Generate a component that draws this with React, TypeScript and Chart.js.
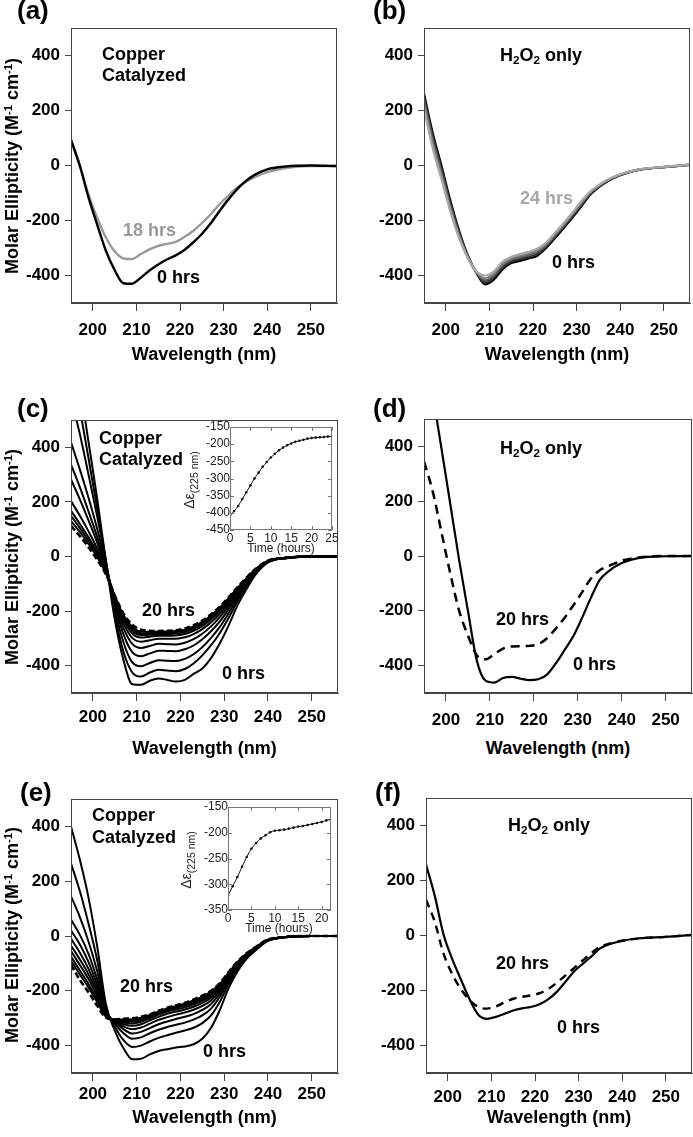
import React, { useEffect, useRef } from "react";
import { Chart, registerables } from "chart.js";
Chart.register(...registerables);

const FONT = "'Liberation Sans', Arial, Helvetica, sans-serif";

// ---------- shared axes ----------
const WAVELENGTHS = [195, 197, 199, 201, 203, 205, 207, 209, 211, 213, 215, 217, 219, 221, 223, 225, 227, 229, 231, 233, 235, 237, 240, 244, 250, 256];
const WL_TICKS = [200, 210, 220, 230, 240, 250];
const ME_TICKS = [-400, -200, 0, 200, 400];

// ---------- panel (a) ----------
const A_0H = [93, 0, -115, -215, -310, -380, -428, -430, -408, -382, -360, -342, -327, -307, -280, -249, -211, -167, -125, -88, -58, -35, -14, -4, 0, -2];
const A_18H = [93, 2, -105, -190, -262, -312, -338, -340, -322, -305, -292, -285, -278, -260, -238, -210, -178, -142, -110, -82, -60, -43, -24, -10, -2, -2];

// ---------- panel (b) ----------
const B_0H = [262, 118, 0, -125, -235, -325, -390, -432, -415, -378, -355, -347, -338, -328, -300, -265, -228, -190, -150, -108, -80, -58, -35, -17, -6, 2];
const B_6H = [250, 105, -12, -135, -242, -328, -389, -425, -408, -370, -349, -340, -332, -321, -295, -260, -223, -185, -145, -105, -78, -57, -34, -16, -6, 2];
const B_12H = [238, 92, -24, -145, -248, -330, -388, -418, -400, -363, -343, -334, -326, -315, -290, -255, -219, -181, -141, -102, -76, -55, -34, -16, -6, 2];
const B_18H = [222, 78, -37, -155, -255, -333, -387, -410, -393, -357, -337, -328, -320, -308, -285, -250, -214, -176, -136, -99, -74, -54, -33, -15, -5, 3];
const B_24H = [205, 62, -50, -165, -262, -335, -385, -400, -385, -350, -332, -322, -314, -302, -280, -245, -210, -172, -132, -96, -72, -52, -32, -15, -5, 3];

// ---------- panel (c) ----------
const C_0H = [820, 630, 420, 210, -20, -230, -380, -468, -470, -455, -447, -452, -458, -452, -430, -410, -372, -318, -253, -180, -122, -70, -22, -6, 0, 0];
const C_2H = [700, 540, 360, 175, -20, -210, -350, -425, -440, -425, -415, -418, -420, -412, -392, -362, -325, -280, -225, -165, -112, -65, -21, -6, 0, 0];
const C_4H = [580, 450, 300, 145, -20, -190, -315, -388, -402, -390, -380, -382, -383, -375, -358, -332, -298, -258, -208, -155, -105, -62, -20, -6, 0, 0];
const C_6H = [418, 320, 215, 100, -30, -175, -285, -350, -365, -355, -345, -346, -347, -340, -326, -303, -274, -238, -193, -145, -99, -59, -19, -6, 0, 0];
const C_8H = [337, 255, 165, 70, -40, -165, -262, -320, -335, -328, -320, -321, -322, -316, -303, -283, -256, -222, -182, -137, -94, -56, -18, -5, 0, 0];
const C_10H = [282, 210, 132, 50, -45, -155, -245, -298, -312, -307, -301, -301, -301, -296, -284, -266, -241, -210, -172, -130, -90, -54, -17, -5, 0, 0];
const C_12H = [203, 150, 92, 28, -50, -150, -232, -282, -297, -294, -290, -290, -289, -284, -272, -255, -231, -201, -165, -125, -87, -52, -17, -5, 0, 0];
const C_14H = [167, 120, 70, 15, -55, -148, -225, -272, -288, -287, -284, -284, -282, -277, -265, -248, -225, -196, -160, -122, -85, -51, -16, -5, 0, 0];
const C_16H = [148, 105, 58, 6, -58, -146, -220, -265, -281, -281, -280, -279, -277, -272, -260, -243, -220, -192, -157, -119, -83, -50, -16, -5, 0, 0];
const C_18H = [130, 90, 46, -3, -62, -145, -215, -258, -275, -276, -276, -275, -273, -268, -256, -239, -216, -188, -153, -116, -81, -49, -16, -5, 0, 0];
const C_20H = [112, 75, 34, -12, -66, -143, -210, -250, -268, -272, -273, -272, -270, -264, -252, -235, -212, -184, -150, -113, -79, -48, -15, -5, 0, 0];

// ---------- panel (d) ----------
const D_0H = [790, 590, 390, 188, -15, -200, -380, -455, -462, -445, -441, -448, -453, -450, -433, -392, -343, -292, -225, -152, -87, -56, -26, -7, -1, 0];
const D_20H = [345, 235, 85, -65, -200, -290, -362, -377, -358, -338, -330, -329, -328, -322, -300, -265, -225, -180, -132, -82, -52, -37, -17, -5, 0, 0];

// ---------- panel (e) ----------
const E_0H = [400, 280, 140, -40, -250, -345, -410, -450, -448, -432, -420, -413, -407, -403, -395, -375, -335, -270, -190, -130, -85, -55, -18, -5, 0, 0];
const E_2H = [265, 165, 45, -90, -262, -330, -380, -405, -400, -385, -372, -362, -353, -345, -335, -318, -290, -240, -175, -122, -82, -53, -17, -5, 0, 0];
const E_4H = [145, 70, -20, -130, -270, -320, -355, -375, -370, -355, -342, -332, -324, -316, -305, -290, -265, -222, -165, -117, -79, -51, -17, -5, 0, 0];
const E_6H = [60, 5, -65, -160, -275, -315, -340, -356, -350, -336, -322, -312, -303, -295, -285, -270, -248, -210, -158, -112, -76, -50, -16, -4, 0, 0];
const E_8H = [20, -30, -95, -180, -280, -312, -330, -340, -334, -320, -306, -296, -287, -279, -269, -255, -235, -200, -153, -108, -74, -48, -16, -4, 0, 0];
const E_10H = [-10, -60, -120, -195, -284, -310, -322, -328, -322, -308, -295, -284, -276, -268, -258, -244, -225, -193, -148, -105, -72, -47, -15, -4, 0, 0];
const E_12H = [-35, -85, -140, -208, -287, -308, -316, -319, -313, -300, -287, -276, -268, -260, -250, -236, -218, -187, -144, -102, -70, -46, -15, -4, 0, 0];
const E_14H = [-55, -105, -157, -220, -290, -307, -312, -313, -307, -295, -282, -271, -262, -254, -244, -230, -212, -182, -140, -100, -68, -45, -14, -4, 0, 0];
const E_16H = [-75, -125, -175, -232, -293, -306, -308, -308, -302, -291, -278, -267, -258, -250, -239, -225, -207, -178, -137, -98, -67, -44, -14, -4, 0, 0];
const E_18H = [-90, -140, -188, -242, -295, -305, -305, -304, -298, -288, -275, -264, -255, -247, -235, -221, -203, -175, -135, -96, -66, -43, -13, -4, 0, 0];
const E_20H = [-105, -160, -205, -255, -298, -305, -302, -300, -295, -286, -273, -262, -253, -244, -232, -218, -200, -172, -132, -94, -65, -42, -13, -4, 0, 0];

// ---------- panel (f) ----------
const F_0H = [258, 145, 5, -85, -160, -232, -288, -303, -296, -285, -273, -265, -260, -250, -232, -205, -168, -130, -102, -75, -46, -32, -19, -10, -5, 2];
const F_20H = [130, 50, -65, -140, -195, -235, -260, -266, -258, -243, -230, -223, -218, -210, -195, -172, -145, -118, -90, -63, -40, -30, -19, -10, -5, 2];

// ---------- insets ----------
const INSET_C_TIME = [0, 1, 2, 3, 4, 5, 6, 7, 8, 9, 10, 11, 12, 13, 14, 15, 16, 17, 18, 19, 20, 21, 22, 23, 24, 25];
const INSET_C_DELTA = [-408, -395, -380, -360, -340, -320, -300, -283, -266, -252, -239, -228, -218, -210, -203, -198, -193, -190, -187, -184, -182, -181, -180, -179, -178, -178];
const INSET_C_XTICKS = [0, 5, 10, 15, 20, 25];
const INSET_C_YTICKS = [-450, -400, -350, -300, -250, -200, -150];

const INSET_E_TIME = [0, 1, 2, 3, 4, 5, 6, 7, 8, 9, 10, 11, 12, 13, 14, 15, 16, 17, 18, 19, 20, 21, 22];
const INSET_E_DELTA = [-322, -304, -286, -266, -247, -231, -220, -211, -205, -199, -196, -195, -194, -192, -190, -188, -187, -185, -183, -181, -179, -176, -174];
const INSET_E_XTICKS = [0, 5, 10, 15, 20];
const INSET_E_YTICKS = [-350, -300, -250, -200, -150];

type Area = { left: number; top: number; width: number; height: number };
type Pad = { l: number; t: number; r: number; b: number };
type SeriesSpec = { values: number[]; color: string; width: number; dash?: number[]; points?: number };
type PanelProps = {
  area: Area;
  pad: Pad;
  xs: number[];
  series: SeriesSpec[];
  xMin: number;
  xMax: number;
  xTicks: number[];
  yMin: number;
  yMax: number;
  yTicks: number[];
  xLabelPad?: number;
  inset?: boolean;
};

function ChartPanel(p: PanelProps) {
  const ref = useRef<HTMLCanvasElement>(null);
  const w = p.area.width + p.pad.l + p.pad.r;
  const h = p.area.height + p.pad.t + p.pad.b;
  useEffect(() => {
    const canvas = ref.current;
    if (!canvas) return;
    const inset = !!p.inset;
    const axisColor = inset ? "#777" : "#444";
    const tickFont = inset
      ? { family: FONT, size: 12, weight: "normal" as const }
      : { family: FONT, size: 17, weight: "bold" as const };
    const frame = {
      id: "frame",
      afterDatasetsDraw(chart: any) {
        const { ctx, chartArea: a } = chart;
        ctx.save();
        ctx.strokeStyle = axisColor;
        ctx.lineWidth = 1;
        const L = Math.round(a.left), T = Math.round(a.top), R = Math.round(a.right), B = Math.round(a.bottom);
        ctx.strokeRect(L + 0.5, T + 0.5, R - L - 1, B - T - 1);
        if (inset) {
          const xs = chart.scales.x, ys = chart.scales.y;
          ctx.beginPath();
          p.xTicks.forEach((v) => {
            const px = Math.round(xs.getPixelForValue(v)) + 0.5;
            ctx.moveTo(px, B); ctx.lineTo(px, B - 4);
            ctx.moveTo(px, T); ctx.lineTo(px, T + 4);
          });
          p.yTicks.forEach((v) => {
            const py = Math.round(ys.getPixelForValue(v)) + 0.5;
            ctx.moveTo(L, py); ctx.lineTo(L + 4, py);
            ctx.moveTo(R, py); ctx.lineTo(R - 4, py);
          });
          ctx.stroke();
        }
        ctx.restore();
      },
    };
    const chart = new Chart(canvas, {
      type: "line",
      data: {
        datasets: p.series.map((s) => ({
          data: p.xs.map((x, i) => ({ x, y: s.values[i] })),
          borderColor: s.color,
          backgroundColor: s.color,
          borderWidth: s.width,
          borderDash: s.dash || [],
          pointRadius: s.points || 0,
          pointBorderWidth: 0,
          pointBackgroundColor: s.color,
          cubicInterpolationMode: "monotone" as const,
          borderCapStyle: "butt" as const,
          borderJoinStyle: "round" as const,
          fill: false,
        })),
      },
      options: {
        animation: false,
        responsive: false,
        maintainAspectRatio: false,
        devicePixelRatio: 1,
        events: [],
        layout: { padding: { top: p.pad.t, right: p.pad.r, left: 0, bottom: 0 } },
        plugins: { legend: { display: false }, tooltip: { enabled: false }, title: { display: false } },
        scales: {
          x: {
            type: "linear",
            min: p.xMin,
            max: p.xMax,
            afterBuildTicks: (s: any) => { s.ticks = p.xTicks.map((v) => ({ value: v })); },
            afterFit: (s: any) => { s.height = p.pad.b; },
            grid: inset
              ? { display: false, drawTicks: false }
              : { display: true, drawOnChartArea: false, drawTicks: true, tickLength: 8, color: axisColor, lineWidth: 1 },
            border: { display: !inset, color: axisColor },
            ticks: {
              font: tickFont,
              color: inset ? "#222" : "#000",
              padding: p.xLabelPad ?? (inset ? 1 : 9),
              maxRotation: 0,
              autoSkip: false,
              callback: (v: any) => String(v),
            },
          },
          y: {
            type: "linear",
            min: p.yMin,
            max: p.yMax,
            afterBuildTicks: (s: any) => { s.ticks = p.yTicks.map((v) => ({ value: v })); },
            afterFit: (s: any) => { s.width = p.pad.l; },
            grid: inset
              ? { display: false, drawTicks: false }
              : { display: true, drawOnChartArea: false, drawTicks: true, tickLength: 6, color: axisColor, lineWidth: 1 },
            border: { display: !inset, color: axisColor },
            ticks: {
              font: tickFont,
              color: inset ? "#222" : "#000",
              padding: inset ? 0 : 5,
              autoSkip: false,
              callback: (v: any) => String(v),
            },
          },
        },
      } as any,
      plugins: [frame],
    });
    return () => chart.destroy();
  }, []);
  return (
    <canvas
      ref={ref}
      width={w}
      height={h}
      style={{ position: "absolute", left: p.area.left - p.pad.l, top: p.area.top - p.pad.t, width: w, height: h }}
    />
  );
}

function Txt(props: { left: number; top: number; size?: number; bold?: boolean; color?: string; width?: number; center?: boolean; children: React.ReactNode }) {
  const size = props.size ?? 18;
  const width = props.width ?? 300;
  return (
    <div
      style={{
        position: "absolute",
        left: props.center ? props.left - width / 2 : props.left,
        top: props.top,
        width: props.center ? width : undefined,
        textAlign: props.center ? "center" : "left",
        fontFamily: FONT,
        fontSize: size,
        lineHeight: `${size}px`,
        fontWeight: props.bold === false ? "normal" : "bold",
        color: props.color ?? "#000",
        whiteSpace: "nowrap",
      }}
    >
      {props.children}
    </div>
  );
}

function VTxt(props: { cx: number; cy: number; size?: number; bold?: boolean; color?: string; children: React.ReactNode }) {
  const size = props.size ?? 18;
  return (
    <div
      style={{
        position: "absolute",
        left: props.cx - 150,
        top: props.cy - 10,
        width: 300,
        height: 20,
        lineHeight: "20px",
        textAlign: "center",
        transform: "rotate(-90deg)",
        transformOrigin: "50% 50%",
        fontFamily: FONT,
        fontSize: size,
        fontWeight: props.bold === false ? "normal" : "bold",
        color: props.color ?? "#000",
        whiteSpace: "nowrap",
      }}
    >
      {props.children}
    </div>
  );
}

const supStyle: React.CSSProperties = { fontSize: "0.62em", verticalAlign: "0.55em", lineHeight: 0 };
const subStyle: React.CSSProperties = { fontSize: "0.65em", verticalAlign: "-0.25em", lineHeight: 0 };

const YTitle = () => (
  <>
    Molar Ellipticity (M<span style={supStyle}>-1</span> cm<span style={supStyle}>-1</span>)
  </>
);
const H2O2 = () => (
  <>
    H<span style={subStyle}>2</span>O<span style={subStyle}>2</span> only
  </>
);
const DeltaEps = () => (
  <>
    Δε<span style={{ fontSize: "0.75em", verticalAlign: "-0.35em", lineHeight: 0 }}>(225 nm)</span>
  </>
);

const MAIN = { xs: WAVELENGTHS, xMin: 195, xMax: 256, xTicks: WL_TICKS, yMin: -500, yMax: 500, yTicks: ME_TICKS };
const PAD_LEFT_COL: Pad = { l: 71, t: 28, r: 10, b: 45 };
const PAD_RIGHT_COL: Pad = { l: 60, t: 28, r: 1, b: 45 };
const blk = (values: number[], width = 2, dash?: number[]): SeriesSpec => ({ values, color: "#000", width, dash });

export default function App() {
  return (
    <div style={{ position: "absolute", left: 0, top: 0, width: 693, height: 1137, background: "#fff", overflow: "hidden" }}>
      {/* (a) */}
      <ChartPanel
        {...MAIN}
        area={{ left: 71, top: 28, width: 266, height: 275 }}
        pad={PAD_LEFT_COL}
        series={[blk(A_0H, 2.4), { values: A_18H, color: "#999", width: 2.4 }]}
      />
      {/* (b) */}
      <ChartPanel
        {...MAIN}
        area={{ left: 424, top: 28, width: 266, height: 275 }}
        pad={{ ...PAD_RIGHT_COL, r: 3 }}
        series={[
          { values: B_24H, color: "#a8a8a8", width: 2.2 },
          { values: B_18H, color: "#808080", width: 2.2 },
          { values: B_12H, color: "#5a5a5a", width: 2.2 },
          { values: B_6H, color: "#333", width: 2.2 },
          { values: B_0H, color: "#000", width: 2.2 },
        ]}
      />
      {/* (c) */}
      <ChartPanel
        {...MAIN}
        area={{ left: 71, top: 420, width: 267, height: 273 }}
        pad={PAD_LEFT_COL}
        xLabelPad={6}
        series={[
          blk(C_20H, 2.6, [6, 3]), blk(C_18H), blk(C_16H), blk(C_14H), blk(C_12H), blk(C_10H),
          blk(C_8H), blk(C_6H), blk(C_4H), blk(C_2H), blk(C_0H),
        ]}
      />
      <ChartPanel
        area={{ left: 230, top: 427, width: 102, height: 103 }}
        pad={{ l: 40, t: 12, r: 12, b: 20 }}
        xs={INSET_C_TIME}
        xMin={0}
        xMax={25}
        xTicks={INSET_C_XTICKS}
        yMin={-450}
        yMax={-150}
        yTicks={INSET_C_YTICKS}
        inset
        series={[{ values: INSET_C_DELTA, color: "#111", width: 1, points: 1.3 }]}
      />
      {/* (d) */}
      <ChartPanel
        {...MAIN}
        area={{ left: 424, top: 419, width: 268, height: 274 }}
        pad={PAD_RIGHT_COL}
        series={[blk(D_20H, 2.5, [9, 6]), blk(D_0H, 2.2)]}
      />
      {/* (e) */}
      <ChartPanel
        {...MAIN}
        area={{ left: 71, top: 799, width: 267, height: 274 }}
        pad={PAD_LEFT_COL}
        xLabelPad={3}
        series={[
          blk(E_20H, 2.6, [6, 3]), blk(E_18H), blk(E_16H), blk(E_14H), blk(E_12H), blk(E_10H),
          blk(E_8H), blk(E_6H), blk(E_4H), blk(E_2H), blk(E_0H),
        ]}
      />
      <ChartPanel
        area={{ left: 228, top: 807, width: 103, height: 103 }}
        pad={{ l: 40, t: 12, r: 12, b: 20 }}
        xs={INSET_E_TIME}
        xMin={0}
        xMax={22}
        xTicks={INSET_E_XTICKS}
        yMin={-350}
        yMax={-150}
        yTicks={INSET_E_YTICKS}
        inset
        series={[{ values: INSET_E_DELTA, color: "#111", width: 1, points: 1.3 }]}
      />
      {/* (f) */}
      <ChartPanel
        {...MAIN}
        area={{ left: 426, top: 798, width: 266, height: 275 }}
        pad={PAD_RIGHT_COL}
        xLabelPad={6}
        series={[blk(F_20H, 2.4, [8, 6]), blk(F_0H, 2.2)]}
      />

      {/* panel letters */}
      <Txt left={17} top={-3} size={26}>(a)</Txt>
      <Txt left={373} top={-3} size={26}>(b)</Txt>
      <Txt left={17} top={395} size={26}>(c)</Txt>
      <Txt left={373} top={395} size={26}>(d)</Txt>
      <Txt left={20} top={779} size={26}>(e)</Txt>
      <Txt left={375} top={779} size={26}>(f)</Txt>

      {/* in-plot annotations */}
      <Txt left={102} top={45}>Copper</Txt>
      <Txt left={102} top={66}>Catalyzed</Txt>
      <Txt left={123} top={221} color="#999">18 hrs</Txt>
      <Txt left={157} top={268}>0 hrs</Txt>

      <Txt left={500} top={46}><H2O2 /></Txt>
      <Txt left={520} top={189} color="#a8a8a8">24 hrs</Txt>
      <Txt left={552} top={253}>0 hrs</Txt>

      <Txt left={99} top={429}>Copper</Txt>
      <Txt left={99} top={450}>Catalyzed</Txt>
      <Txt left={142} top={601}>20 hrs</Txt>
      <Txt left={222} top={664}>0 hrs</Txt>

      <Txt left={500} top={439}><H2O2 /></Txt>
      <Txt left={496} top={610}>20 hrs</Txt>
      <Txt left={573} top={655}>0 hrs</Txt>

      <Txt left={92} top={806}>Copper</Txt>
      <Txt left={92} top={828}>Catalyzed</Txt>
      <Txt left={120} top={977}>20 hrs</Txt>
      <Txt left={203} top={1042}>0 hrs</Txt>

      <Txt left={508} top={816}><H2O2 /></Txt>
      <Txt left={496} top={954}>20 hrs</Txt>
      <Txt left={557} top={1018}>0 hrs</Txt>

      {/* axis titles */}
      <VTxt cx={12} cy={166}><YTitle /></VTxt>
      <VTxt cx={12} cy={557}><YTitle /></VTxt>
      <VTxt cx={12} cy={935}><YTitle /></VTxt>

      <Txt left={204} top={345} center>Wavelength (nm)</Txt>
      <Txt left={557} top={345} center>Wavelength (nm)</Txt>
      <Txt left={204.5} top={739} center>Wavelength (nm)</Txt>
      <Txt left={558} top={739} center>Wavelength (nm)</Txt>
      <Txt left={204.5} top={1108} center>Wavelength (nm)</Txt>
      <Txt left={559} top={1108} center>Wavelength (nm)</Txt>

      {/* inset titles */}
      <Txt left={281} top={542} size={12} bold={false} color="#222" center>Time (hours)</Txt>
      <VTxt cx={189} cy={480} size={14} bold={false} color="#222"><DeltaEps /></VTxt>
      <Txt left={279} top={922} size={12} bold={false} color="#222" center>Time (hours)</Txt>
      <VTxt cx={186} cy={860} size={14} bold={false} color="#222"><DeltaEps /></VTxt>
    </div>
  );
}
